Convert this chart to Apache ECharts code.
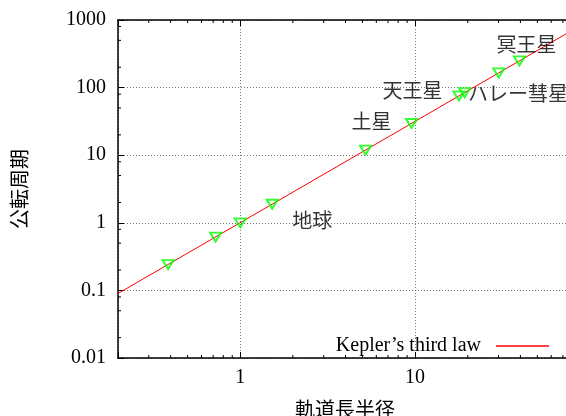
<!DOCTYPE html>
<html>
<head>
<meta charset="utf-8">
<script src="https://cdn.jsdelivr.net/npm/echarts@6/dist/echarts.min.js"></script>
<style>html,body{margin:0;padding:0;background:#fff}#c{width:566px;height:416px}</style>
</head>
<body>
<div id="c"></div>
<script>
// ---- data ----
const planetNames = ['水星', '金星', '地球', '火星', '木星', '土星', '天王星', '海王星', '冥王星', 'ハレー彗星'];
const semiMajorAxis = [0.387, 0.723, 1.0, 1.524, 5.203, 9.537, 19.19, 30.07, 39.48, 17.8];
const orbitalPeriod = [0.241, 0.615, 1.0, 1.881, 11.86, 29.45, 84.0, 164.8, 248.0, 75.3];
const lawX = [0.2, 100];
const lawY = [0.09, 1000];
const xMinorTicks = [0.3, 0.4, 0.5, 0.6, 0.7, 0.8, 0.9, 2, 3, 4, 5, 6, 7, 8, 9, 20, 30, 40, 50, 60, 70, 80, 90];
const yMinorTicks = [0.02, 0.05, 0.08, 0.2, 0.5, 0.8, 2, 5, 8, 20, 50, 80, 200, 500, 800];
const X_MIN = 0.2, X_MAX = 100, Y_MIN = 0.01, Y_MAX = 1000;
const lawName = 'Kepler\u2019s third law';
const xTitle = '軌道長半径';
const yTitle = '公転周期';

// ---- styles ----
const FONT = '"Liberation Serif", "Noto Sans CJK JP", serif';
const labelStyle = {
  '地球': { align: 'left', offset: [52, 0] },
  '土星': { align: 'right', offset: [-20, 0] },
  '天王星': { align: 'right', offset: [-22, 0] },
  'ハレー彗星': { align: 'left', offset: [9, 0] },
  '冥王星': { align: 'center', offset: [7, -14] }
};

function fmt(v) {
  const l = Math.log10(v);
  if (Math.abs(l - Math.round(l)) > 1e-6) return '';
  return String(+Math.pow(10, Math.round(l)).toPrecision(6));
}

const chart = echarts.init(document.getElementById('c'));
const axisLine = { show: true, lineStyle: { color: '#000', width: 1.5 } };
const splitLine = { show: true, lineStyle: { color: '#777', type: [1, 2], width: 1 } };

const pointData = semiMajorAxis.map((a, i) => {
  const name = planetNames[i];
  const item = { name: name, value: [a, orbitalPeriod[i]] };
  if (labelStyle[name]) {
    item.label = Object.assign({
      show: true, position: 'inside', verticalAlign: 'middle',
      formatter: name, color: '#000', fontSize: 20, fontFamily: FONT
    }, labelStyle[name]);
  }
  return item;
});

function tickRender(horizontal) {
  return function (params, api) {
    const v = horizontal ? api.value(0) : api.value(1);
    const len = 3;
    if (horizontal) {
      const p0 = api.coord([v, Y_MIN]);
      const p1 = api.coord([v, Y_MAX]);
      return { type: 'group', children: [
        { type: 'line', shape: { x1: p0[0], y1: p0[1], x2: p0[0], y2: p0[1] - len }, style: { stroke: '#000', lineWidth: 1 } },
        { type: 'line', shape: { x1: p1[0], y1: p1[1], x2: p1[0], y2: p1[1] + len }, style: { stroke: '#000', lineWidth: 1 } }
      ]};
    } else {
      const p0 = api.coord([X_MIN, v]);
      return { type: 'line', shape: { x1: p0[0], y1: p0[1], x2: p0[0] + len, y2: p0[1] }, style: { stroke: '#000', lineWidth: 1 } };
    }
  };
}

chart.setOption({
  backgroundColor: '#fff',
  animation: false,
  textStyle: { fontFamily: FONT },
  grid: { left: 118, top: 20, bottom: 58, right: -24, containLabel: false, outerBoundsMode: 'none' },
  legend: {
    data: [{ name: lawName, icon: 'rect' }],
    right: 12, top: 331, align: 'right',
    itemWidth: 53, itemHeight: 1.5,
    itemStyle: { color: '#ff0000' },
    textStyle: { fontSize: 20, fontFamily: FONT, color: '#000', padding: [0, 10, 0, 0] },
    selectedMode: false
  },
  xAxis: [{
    type: 'log', min: X_MIN, max: X_MAX, position: 'bottom',
    name: xTitle, nameLocation: 'middle', nameGap: 44,
    nameTextStyle: { fontSize: 20, fontFamily: FONT, color: '#000', padding: [0, 18, 0, 0] },
    axisLine: axisLine,
    axisTick: { show: true, inside: true, length: 6, lineStyle: { color: '#000', width: 1 } },
    axisLabel: { fontSize: 20, fontFamily: FONT, color: '#000', margin: 10, formatter: fmt },
    splitLine: splitLine
  }, {
    type: 'log', min: X_MIN, max: X_MAX, position: 'top',
    axisLine: axisLine,
    axisTick: { show: true, inside: true, length: 6, lineStyle: { color: '#000', width: 1 } },
    axisLabel: { show: false },
    splitLine: { show: false }
  }],
  yAxis: [{
    type: 'log', min: Y_MIN, max: Y_MAX,
    name: yTitle, nameLocation: 'middle', nameGap: 86, nameRotate: 90,
    nameTextStyle: { fontSize: 20, fontFamily: FONT, color: '#000' },
    axisLine: axisLine,
    axisTick: { show: true, inside: true, length: 6, lineStyle: { color: '#000', width: 1 } },
    axisLabel: { fontSize: 20, fontFamily: FONT, color: '#000', margin: 12, formatter: fmt },
    splitLine: splitLine
  }],
  series: [{
    type: 'custom', xAxisIndex: 0, yAxisIndex: 0, silent: true,
    renderItem: tickRender(true), encode: { x: 0, y: 1 },
    data: xMinorTicks.map(v => [v, Y_MIN]), z: 5
  }, {
    type: 'custom', xAxisIndex: 0, yAxisIndex: 0, silent: true,
    renderItem: tickRender(false), encode: { x: 0, y: 1 },
    data: yMinorTicks.map(v => [X_MIN, v]), z: 5
  }, {
    name: lawName, type: 'line', xAxisIndex: 0, yAxisIndex: 0,
    data: lawX.map((x, i) => [x, lawY[i]]),
    symbol: 'none', showSymbol: false,
    lineStyle: { color: '#ff0000', width: 1 },
    itemStyle: { color: '#ff0000' },
    z: 3
  }, {
    name: 'planets', type: 'scatter', xAxisIndex: 0, yAxisIndex: 0,
    data: pointData,
    symbol: 'triangle', symbolRotate: 180, symbolSize: [11, 9],
    itemStyle: { color: 'rgba(0,0,0,0)', borderColor: '#00ff00', borderWidth: 2 },
    z: 4
  }]
});
</script>
</body>
</html>
